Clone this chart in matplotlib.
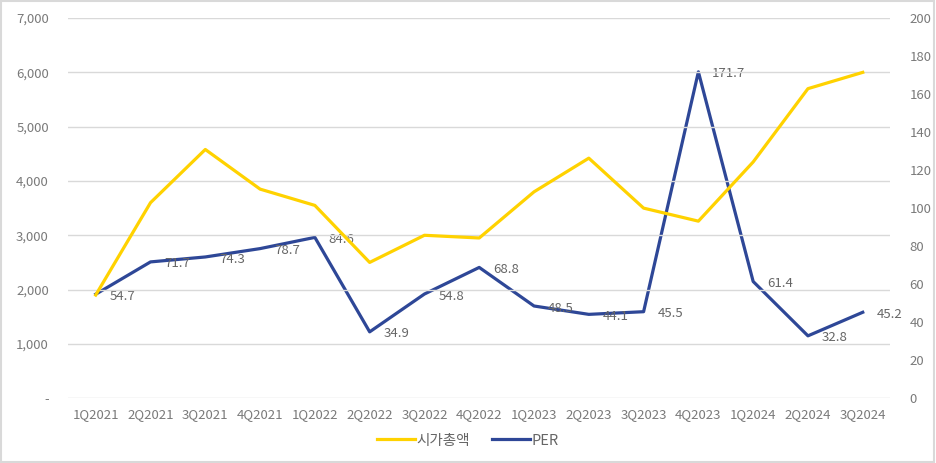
import matplotlib.pyplot as plt
from matplotlib.ticker import FuncFormatter
from matplotlib.patches import Rectangle

plt.rcParams['font.family'] = ['Noto Sans CJK KR', 'DejaVu Sans']

# 데이터
quarters = ['1Q2021', '2Q2021', '3Q2021', '4Q2021', '1Q2022', '2Q2022', '3Q2022', '4Q2022',
            '1Q2023', '2Q2023', '3Q2023', '4Q2023', '1Q2024', '2Q2024', '3Q2024']
market_cap = [1900, 3600, 4580, 3850, 3550, 2500, 3000, 2950,
              3800, 4420, 3500, 3260, 4350, 5700, 6000]
per = [54.7, 71.7, 74.3, 78.7, 84.6, 34.9, 54.8, 68.8,
       48.5, 44.1, 45.5, 171.7, 61.4, 32.8, 45.2]

yellow = '#FFD200'
blue = '#2E4797'
text_col = '#7a7a7a'
grid_col = '#d9d9d9'

fig, ax = plt.subplots(figsize=(9.36, 4.63), dpi=100)
fig.subplots_adjust(left=0.073, right=0.951, top=0.961, bottom=0.140)
ax2 = ax.twinx()

x = list(range(len(quarters)))
ax.plot(x, market_cap, color=yellow, lw=2.3, label='시가총액', zorder=3)
ax2.plot(x, per, color=blue, lw=2.3, label='PER', zorder=3)

# PER 값 라벨
for xi, v in zip(x, per):
    ax2.annotate(f'{v:.1f}', (xi, v), xytext=(10, -1.5), textcoords='offset points',
                 ha='left', va='center', fontsize=9.5, color='#666666')

ax.set_xlim(-0.5, len(quarters) - 0.5)
ax.set_ylim(0, 7000)
ax2.set_ylim(0, 200)
ax.set_yticks(range(0, 7001, 1000))
ax2.set_yticks(range(0, 201, 20))
ax.yaxis.set_major_formatter(FuncFormatter(lambda v, p: '-' if v == 0 else f'{int(v):,}'))
ax.set_xticks(x)
ax.set_xticklabels(quarters)

ax.grid(axis='y', color=grid_col, lw=1)
ax.set_axisbelow(True)
for a in (ax, ax2):
    for s in a.spines.values():
        s.set_visible(False)
    a.tick_params(length=0, colors=text_col, labelsize=9.5)
ax.tick_params(axis='y', pad=14)
ax.tick_params(axis='x', pad=7)
ax2.tick_params(axis='y', pad=14)
ax.set_zorder(ax2.get_zorder() + 1)
ax.patch.set_visible(False)

h1, l1 = ax.get_legend_handles_labels()
h2, l2 = ax2.get_legend_handles_labels()
fig.legend(h1 + h2, l1 + l2, loc='lower center', bbox_to_anchor=(0.5, 0.005), ncol=2,
           frameon=False, fontsize=10.5, labelcolor='#666666', handlelength=2.6,
           handletextpad=0.1, columnspacing=1.5)

fig.patches.append(Rectangle((0.001, 0.002), 0.997, 0.995, transform=fig.transFigure,
                             fill=False, edgecolor='#d9d9d9', lw=1.5))

fig.savefig('out.png', dpi=100)
